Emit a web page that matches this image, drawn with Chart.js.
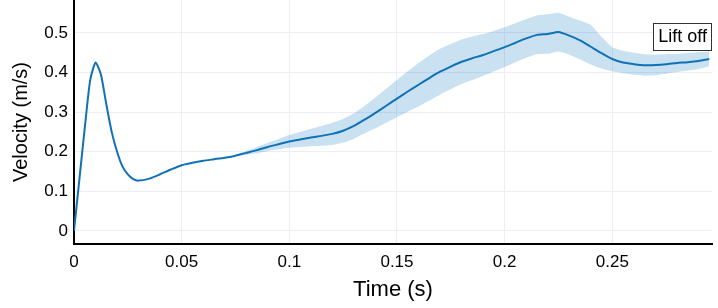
<!DOCTYPE html>
<html>
<head>
<meta charset="utf-8">
<script src="https://cdn.jsdelivr.net/npm/chart.js@4"></script>
<style>
  html, body { margin: 0; padding: 0; background: #fff; }
  #wrap { width: 718px; height: 308px; }
</style>
</head>
<body>
<div id="wrap"><canvas id="velocityChart" width="718" height="308"></canvas></div>
<script>
// mean velocity curve
const time = [0, 0.0025, 0.005, 0.0075, 0.01, 0.0125, 0.015, 0.0175, 0.02, 0.0225, 0.025, 0.0275, 0.03,
    0.035, 0.04, 0.045, 0.05, 0.055, 0.06, 0.065, 0.07, 0.075, 0.08, 0.085, 0.09, 0.095, 0.1,
    0.105, 0.11, 0.115, 0.12, 0.125, 0.13, 0.135, 0.14, 0.145, 0.15, 0.155, 0.16, 0.165, 0.17,
    0.175, 0.18, 0.185, 0.19, 0.195, 0.2, 0.205, 0.21, 0.215, 0.22, 0.225, 0.23, 0.235, 0.24,
    0.245, 0.25, 0.255, 0.26, 0.265, 0.27, 0.275, 0.28, 0.285, 0.29, 0.295];
const velocity = [0, 0.13, 0.26, 0.38, 0.425, 0.395, 0.32, 0.25, 0.2, 0.163, 0.143, 0.131, 0.127,
    0.132, 0.143, 0.155, 0.166, 0.172, 0.177, 0.181, 0.185, 0.19, 0.197, 0.204, 0.212, 0.219, 0.226,
    0.231, 0.236, 0.24, 0.245, 0.253, 0.265, 0.281, 0.298, 0.316, 0.334, 0.352, 0.369, 0.386, 0.402,
    0.415, 0.427, 0.436, 0.444, 0.454, 0.464, 0.475, 0.486, 0.495, 0.497, 0.502, 0.493, 0.481, 0.465,
    0.449, 0.434, 0.425, 0.421, 0.418, 0.419, 0.421, 0.424, 0.426, 0.429, 0.434];

// shaded spread (only visible from ~0.075 s on)
const bandTime = [0.075, 0.08, 0.085, 0.09, 0.095, 0.1, 0.105, 0.11, 0.115, 0.12, 0.125, 0.13, 0.135,
    0.14, 0.145, 0.15, 0.155, 0.16, 0.165, 0.17, 0.175, 0.18, 0.185, 0.19, 0.195, 0.2, 0.205, 0.21,
    0.215, 0.22, 0.225, 0.23, 0.235, 0.24, 0.245, 0.25, 0.255, 0.26, 0.265, 0.27, 0.275, 0.28, 0.285,
    0.29, 0.295];
const bandUpper = [0.19, 0.202, 0.212, 0.222, 0.232, 0.242, 0.25, 0.258, 0.265, 0.273, 0.283, 0.297, 0.316,
    0.337, 0.359, 0.381, 0.403, 0.424, 0.443, 0.46, 0.472, 0.483, 0.491, 0.497, 0.505, 0.514, 0.524, 0.535,
    0.544, 0.547, 0.551, 0.541, 0.531, 0.52, 0.49, 0.464, 0.455, 0.45, 0.446, 0.445, 0.446, 0.447, 0.449,
    0.451, 0.453];
const bandLower = [0.19, 0.192, 0.196, 0.202, 0.206, 0.21, 0.212, 0.214, 0.215, 0.217, 0.223, 0.233, 0.246,
    0.259, 0.273, 0.287, 0.301, 0.314, 0.329, 0.344, 0.358, 0.371, 0.381, 0.391, 0.403, 0.414, 0.426, 0.437,
    0.446, 0.447, 0.453, 0.445, 0.433, 0.42, 0.41, 0.403, 0.398, 0.394, 0.392, 0.393, 0.397, 0.401, 0.405,
    0.409, 0.416];

const xTicks = [0, 0.05, 0.1, 0.15, 0.2, 0.25];
const yTicks = [0, 0.1, 0.2, 0.3, 0.4, 0.5];
const noteText = 'Lift off';

const lineColor = '#0f72b6';
const bandColor = 'rgba(0, 114, 189, 0.21)';
const gridColor = '#ebeef6';
const fontFamily = '"Liberation Sans", Arial, sans-serif';

const toPoints = (xs, ys) => xs.map((x, i) => ({ x: x, y: ys[i] }));

const liftOffNote = {
    id: 'liftOffNote',
    afterDraw(chart) {
        const { ctx, chartArea } = chart;
        ctx.save();
        ctx.font = '18px ' + fontFamily;
        const w = ctx.measureText(noteText).width + 10;
        const h = 27;
        const right = chartArea.right;
        const left = right - w;
        const top = 23;
        ctx.fillStyle = '#fff';
        ctx.fillRect(left, top, w, h);
        ctx.strokeStyle = '#333';
        ctx.lineWidth = 1;
        ctx.strokeRect(Math.round(left) + 0.5, top + 0.5, Math.round(w) - 1, h);
        ctx.fillStyle = '#000';
        ctx.textBaseline = 'middle';
        ctx.textAlign = 'left';
        ctx.fillText(noteText, left + 5, top + h / 2 + 1);
        ctx.restore();
    }
};

const ctx = document.getElementById('velocityChart').getContext('2d');
new Chart(ctx, {
    type: 'line',
    data: {
        datasets: [{
            data: toPoints(time, velocity),
            borderColor: lineColor,
            borderWidth: 2,
            pointRadius: 0,
            tension: 0.2,
            fill: false
        }, {
            data: toPoints(bandTime, bandUpper),
            borderWidth: 0,
            borderColor: 'transparent',
            backgroundColor: bandColor,
            pointRadius: 0,
            tension: 0.2,
            fill: '+1'
        }, {
            data: toPoints(bandTime, bandLower),
            borderWidth: 0,
            borderColor: 'transparent',
            pointRadius: 0,
            tension: 0.2,
            fill: false
        }]
    },
    options: {
        responsive: false,
        animation: false,
        layout: { padding: { top: 0, right: 6, left: 0, bottom: 0 } },
        plugins: {
            legend: { display: false },
            tooltip: { enabled: false }
        },
        scales: {
            x: {
                type: 'linear',
                min: 0,
                max: 0.2963,
                afterBuildTicks: (scale) => { scale.ticks = xTicks.map(v => ({ value: v })); },
                afterFit: (scale) => { scale.height = 64; scale.paddingRight = 0; scale.paddingLeft = 0; },
                grid: { color: gridColor, drawTicks: false },
                border: { color: '#000', width: 2 },
                ticks: {
                    color: '#000',
                    padding: 8,
                    maxRotation: 0,
                    font: { family: fontFamily, size: 17 },
                    callback: (v) => String(v)
                },
                title: {
                    display: true,
                    text: 'Time (s)',
                    color: '#000',
                    font: { family: fontFamily, size: 22 },
                    padding: { top: 0, bottom: 5 }
                }
            },
            y: {
                min: -0.033,
                max: 0.583,
                afterBuildTicks: (scale) => { scale.ticks = yTicks.map(v => ({ value: v })); },
                afterFit: (scale) => { scale.width = 74; scale.paddingTop = 0; scale.paddingBottom = 0; },
                grid: { color: gridColor, drawTicks: false },
                border: { color: '#000', width: 2 },
                ticks: {
                    color: '#000',
                    padding: 6,
                    font: { family: fontFamily, size: 17 },
                    callback: (v) => String(v)
                },
                title: {
                    display: true,
                    text: 'Velocity (m/s)',
                    color: '#000',
                    font: { family: fontFamily, size: 20 },
                    padding: { top: 9, bottom: 0 }
                }
            }
        }
    },
    plugins: [liftOffNote]
});
</script>
</body>
</html>
